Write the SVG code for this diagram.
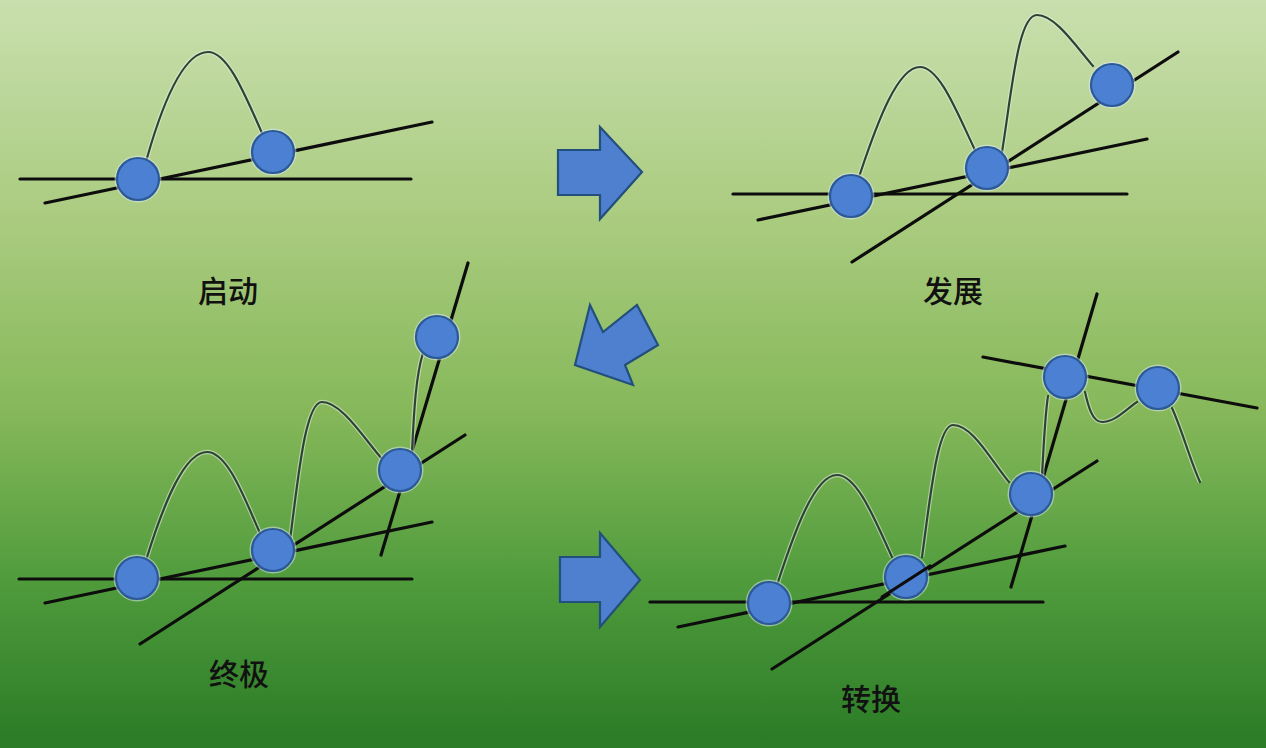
<svg xmlns="http://www.w3.org/2000/svg" width="1266" height="748" viewBox="0 0 1266 748">
<defs>
<linearGradient id="bg" x1="0" y1="0" x2="0" y2="1">
<stop offset="0" stop-color="#c9dfae"/>
<stop offset="0.3" stop-color="#a9cb7e"/>
<stop offset="0.55" stop-color="#86b85a"/>
<stop offset="0.78" stop-color="#4f9b3c"/>
<stop offset="1" stop-color="#2a7a26"/>
</linearGradient>
</defs>
<style>
.ln{stroke:#0d0d0d;stroke-width:3.2;stroke-linecap:round;fill:none}
.cv{stroke:#2c4436;stroke-width:2.2;fill:none;stroke-linecap:round}
.halo{stroke:#e8f0dc;stroke-opacity:0.55;stroke-width:4.5;fill:none}
.nd{fill:#4b80d3;stroke:#2c5a96;stroke-width:2.2}
.ndh{fill:none;stroke:#dfeaf5;stroke-opacity:0.5;stroke-width:5}
.ar{fill:#4f80cf;stroke:#234f7d;stroke-width:2.2;stroke-linejoin:miter}
.lb{font-family:"Noto Sans CJK SC","Noto Sans",sans-serif;font-size:30px;font-weight:500;fill:#111;text-anchor:middle}
</style>
<rect x="0" y="0" width="1266" height="748" fill="url(#bg)"/>

<g id="connectors">
<!-- panel 1 -->
<line class="ln" x1="20" y1="179" x2="411" y2="179"/>
<line class="ln" x1="45" y1="203" x2="432" y2="122"/>
<!-- panel 2 -->
<line class="ln" x1="733" y1="194" x2="1127" y2="194"/>
<line class="ln" x1="758" y1="220" x2="1147" y2="139"/>
<line class="ln" x1="852" y1="262" x2="1178" y2="52"/>
<!-- panel 3 -->
<line class="ln" x1="19" y1="579" x2="412" y2="579"/>
<line class="ln" x1="45" y1="603" x2="432" y2="522"/>
<line class="ln" x1="140" y1="644" x2="465" y2="435"/>
<line class="ln" x1="381" y1="555" x2="468" y2="263"/>
<!-- panel 4 -->
<line class="ln" x1="650" y1="602" x2="1043" y2="602"/>
<line class="ln" x1="678" y1="627" x2="1065" y2="546"/>
<line class="ln" x1="772" y1="669" x2="1097" y2="461"/>
<line class="ln" x1="1011" y1="587" x2="1097" y2="294"/>
<line class="ln" x1="983" y1="357" x2="1257" y2="408"/>
</g>

<g id="curves">
<path class="halo" d="M147,158 C165,95 185,52 208,52 C228,52 245,95 262,133"/>
<path class="cv" d="M147,158 C165,95 185,52 208,52 C228,52 245,95 262,133"/>

<path class="halo" d="M860,174 C878,120 898,67 920,67 C940,67 958,115 975,150 M1002,152 C1012,90 1018,15 1037,15 C1055,15 1075,45 1093,66"/>
<path class="cv" d="M860,174 C878,120 898,67 920,67 C940,67 958,115 975,150 M1002,152 C1012,90 1018,15 1037,15 C1055,15 1075,45 1093,66"/>

<path class="halo" d="M147,557 C165,500 185,452 207,452 C228,452 245,500 260,533 M290,540 C298,480 305,402 322,402 C342,402 365,440 383,460 M412,452 C414,410 416,375 423,353"/>
<path class="cv" d="M147,557 C165,500 185,452 207,452 C228,452 245,500 260,533 M290,540 C298,480 305,402 322,402 C342,402 365,440 383,460 M412,452 C414,410 416,375 423,353"/>

<path class="halo" d="M778,582 C795,530 815,475 837,475 C858,475 877,525 892,557 M922,557 C930,500 937,425 953,425 C973,425 992,462 1009,482 M1042,476 C1044,440 1045,415 1048,396 M1085,392 C1088,405 1092,422 1102,422 C1115,422 1125,410 1137,402 M1172,408 C1182,430 1190,460 1200,482"/>
<path class="cv" d="M778,582 C795,530 815,475 837,475 C858,475 877,525 892,557 M922,557 C930,500 937,425 953,425 C973,425 992,462 1009,482 M1042,476 C1044,440 1045,415 1048,396 M1085,392 C1088,405 1092,422 1102,422 C1115,422 1125,410 1137,402 M1172,408 C1182,430 1190,460 1200,482"/>
</g>

<g id="node-p1-a"><circle class="ndh" cx="138" cy="179" r="21"/><circle class="nd" cx="138" cy="179" r="21"/></g>
<g id="node-p1-b"><circle class="ndh" cx="273" cy="152" r="21"/><circle class="nd" cx="273" cy="152" r="21"/></g>

<g id="node-p2-a"><circle class="ndh" cx="851" cy="196" r="21"/><circle class="nd" cx="851" cy="196" r="21"/></g>
<g id="node-p2-b"><circle class="ndh" cx="987" cy="168" r="21"/><circle class="nd" cx="987" cy="168" r="21"/></g>
<g id="node-p2-c"><circle class="ndh" cx="1112" cy="85" r="21"/><circle class="nd" cx="1112" cy="85" r="21"/></g>

<g id="node-p3-a"><circle class="ndh" cx="137" cy="578" r="21"/><circle class="nd" cx="137" cy="578" r="21"/></g>
<g id="node-p3-b"><circle class="ndh" cx="273" cy="550" r="21"/><circle class="nd" cx="273" cy="550" r="21"/></g>
<g id="node-p3-c"><circle class="ndh" cx="400" cy="470" r="21"/><circle class="nd" cx="400" cy="470" r="21"/></g>
<g id="node-p3-d"><circle class="ndh" cx="437" cy="337" r="21"/><circle class="nd" cx="437" cy="337" r="21"/></g>

<g id="node-p4-a"><circle class="ndh" cx="769" cy="603" r="21"/><circle class="nd" cx="769" cy="603" r="21"/></g>
<g id="node-p4-b"><circle class="ndh" cx="906" cy="577" r="21"/><circle class="nd" cx="906" cy="577" r="21"/><line class="ln" x1="882" y1="597" x2="930" y2="566"/></g>
<g id="node-p4-c"><circle class="ndh" cx="1031" cy="494" r="21"/><circle class="nd" cx="1031" cy="494" r="21"/></g>
<g id="node-p4-d"><circle class="ndh" cx="1065" cy="377" r="21"/><circle class="nd" cx="1065" cy="377" r="21"/></g>
<g id="node-p4-e"><circle class="ndh" cx="1158" cy="388" r="21"/><circle class="nd" cx="1158" cy="388" r="21"/></g>

<g id="arrow-1"><polygon class="ar" points="558,150 600,150 600,127 642,172 600,219 600,195 558,195"/></g>
<g id="arrow-2"><polygon class="ar" points="575,365 590,305 603,332 637,305 658,345 625,365 633,385"/></g>
<g id="arrow-3"><polygon class="ar" points="560,557 600,557 600,533 640,580 600,627 600,602 560,602"/></g>

<g id="label-1"><text class="lb" x="228" y="302">启动</text></g>
<g id="label-2"><text class="lb" x="953" y="302">发展</text></g>
<g id="label-3"><text class="lb" x="239" y="685">终极</text></g>
<g id="label-4"><text class="lb" x="871" y="710">转换</text></g>
</svg>
